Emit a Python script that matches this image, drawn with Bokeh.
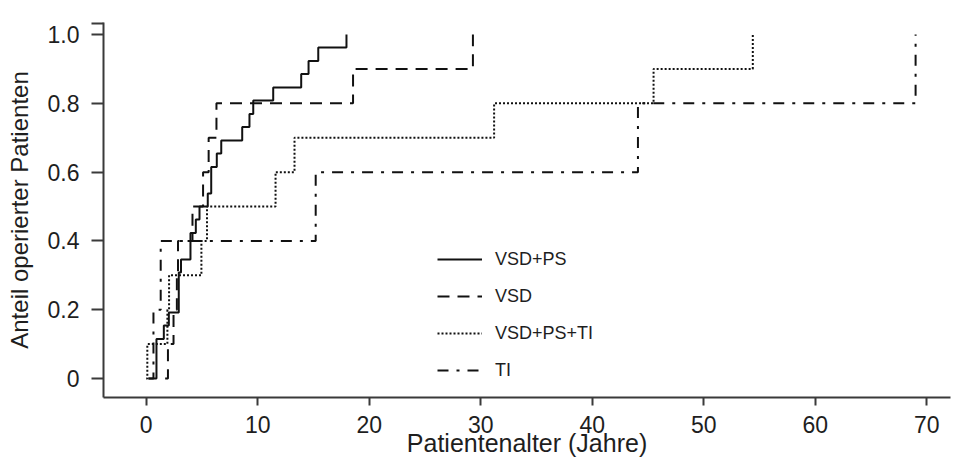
from bokeh.plotting import figure
from bokeh.models import Range1d, FixedTicker, CustomJSTickFormatter, Legend, LegendItem
from bokeh.embed import file_html
from bokeh.resources import INLINE

# ---- data ----
series_names = ["VSD+PS", "VSD", "VSD+PS+TI", "TI"]

vsd_ps_age = [0.2, 0.92, 1.58, 2.03, 2.92, 3.12, 3.97, 4.45, 4.78, 5.52, 5.83,
              6.33, 6.73, 8.61, 9.26, 9.6, 11.39, 13.9, 14.56, 15.43, 17.96]
vsd_ps_frac = [0.0, 0.115, 0.154, 0.192, 0.308, 0.346, 0.423, 0.462, 0.5, 0.538, 0.615,
               0.654, 0.692, 0.731, 0.769, 0.808, 0.846, 0.885, 0.923, 0.962, 1.0]

vsd_age = [1.7, 1.95, 2.45, 2.75, 2.85, 4.15, 5.1, 5.6, 6.3, 18.55, 29.3]
vsd_frac = [0.0, 0.1, 0.2, 0.3, 0.4, 0.5, 0.6, 0.7, 0.8, 0.9, 1.0]

vsd_ps_ti_age = [0.0, 0.1, 1.9, 2.05, 4.95, 5.45, 11.6, 13.3, 31.2, 45.5, 54.4]
vsd_ps_ti_frac = [0.0, 0.1, 0.2, 0.3, 0.4, 0.5, 0.6, 0.7, 0.8, 0.9, 1.0]

ti_age = [0.2, 0.65, 1.3, 15.2, 44.1, 69.0]
ti_frac = [0.0, 0.2, 0.4, 0.6, 0.8, 1.0]

x_ticks = [0, 10, 20, 30, 40, 50, 60, 70]
y_ticks = [0.0, 0.2, 0.4, 0.6, 0.8, 1.0]
y_tick_labels = ["0", "0.2", "0.4", "0.6", "0.8", "1.0"]
y_axis_end_tick = [1.033]   # unlabeled tick at the top end of the axis

x_title = "Patientenalter (Jahre)"
y_title = "Anteil operierter Patienten"

# ---- figure ----
FONT = "Liberation Sans"
TXT = "#1e1e1e"
AX = "#3a3a3a"

p = figure(width=958, height=462, output_backend="svg", toolbar_location=None,
           x_range=Range1d(-3.83, 72.13), y_range=Range1d(-0.0552, 1.035),
           min_border_left=103, min_border_right=8, min_border_top=22, min_border_bottom=65)
p.outline_line_color = None
p.xgrid.visible = False
p.ygrid.visible = False
p.background_fill_color = "white"
p.border_fill_color = "white"

styles = [
    dict(line_dash="solid"),
    dict(line_dash="12 8"),
    dict(line_dash="2 2"),
    dict(line_dash="11 8 3 8"),
]
data = [(vsd_ps_age, vsd_ps_frac), (vsd_age, vsd_frac),
        (vsd_ps_ti_age, vsd_ps_ti_frac), (ti_age, ti_frac)]

items = []
for name, (xs, ys), st in zip(series_names, data, styles):
    r = p.step(xs, ys, mode="after", line_color="#111111", line_width=2, **st)
    items.append(LegendItem(label=name, renderers=[r]))

legend = Legend(items=items, location=(334, 12), padding=0, margin=0,
                spacing=7, glyph_width=45, glyph_height=30, label_height=30,
                label_standoff=13, border_line_color=None,
                background_fill_alpha=0.0,
                label_text_font=FONT, label_text_font_size="18px",
                label_text_color=TXT)
p.add_layout(legend, "center")

# axes
xa = p.xaxis[0]
xa.ticker = FixedTicker(ticks=x_ticks, minor_ticks=[])
xa.axis_label = x_title
xa.axis_label_text_font = FONT
xa.axis_label_text_font_size = "25px"
xa.axis_label_text_font_style = "normal"
xa.axis_label_text_color = TXT
xa.axis_label_standoff = -7
xa.major_label_text_font = FONT
xa.major_label_text_font_size = "23px"
xa.major_label_text_color = TXT
xa.major_label_standoff = 10
xa.axis_line_color = AX
xa.axis_line_width = 2
xa.major_tick_line_color = AX
xa.major_tick_line_width = 2
xa.major_tick_out = 8
xa.major_tick_in = 0
xa.minor_tick_line_color = None

ya = p.yaxis[0]
ya.ticker = FixedTicker(ticks=y_ticks + y_axis_end_tick, minor_ticks=[])
ya.formatter = CustomJSTickFormatter(
    args=dict(tvals=y_ticks, tlabels=y_tick_labels),
    code="const i = tvals.findIndex(t => Math.abs(t - tick) < 1e-9); return i >= 0 ? tlabels[i] : '';")
ya.axis_label = y_title
ya.axis_label_text_font = FONT
ya.axis_label_text_font_size = "24px"
ya.axis_label_text_font_style = "normal"
ya.axis_label_text_color = TXT
ya.axis_label_standoff = 12
ya.major_label_text_font = FONT
ya.major_label_text_font_size = "23px"
ya.major_label_text_color = TXT
ya.major_label_standoff = 12
ya.axis_line_color = AX
ya.axis_line_width = 2
ya.major_tick_line_color = AX
ya.major_tick_line_width = 2
ya.major_tick_out = 12
ya.major_tick_in = 0
ya.minor_tick_line_color = None

open("out.html", "w").write(file_html(p, INLINE))
